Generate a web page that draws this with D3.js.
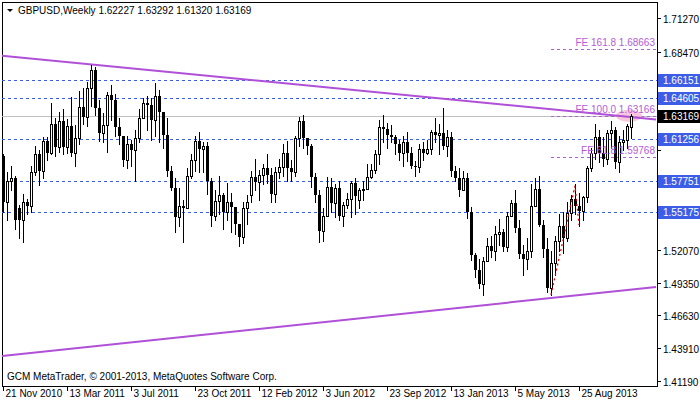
<!DOCTYPE html>
<html><head><meta charset="utf-8">
<script src="https://cdn.jsdelivr.net/npm/d3@7"></script>
<style>body{margin:0;background:#fff}svg{display:block;font-family:"Liberation Sans",Arial,sans-serif}</style>
</head><body><svg id="c" width="700" height="402"></svg>
<script>
const opens=[1.598,1.560,1.578,1.580,1.555,1.545,1.560,1.557,1.585,1.600,1.586,1.611,1.601,1.625,1.606,1.627,1.606,1.623,1.601,1.613,1.639,1.631,1.655,1.670,1.638,1.617,1.624,1.649,1.645,1.622,1.615,1.595,1.608,1.603,1.613,1.630,1.642,1.641,1.628,1.648,1.635,1.616,1.586,1.572,1.548,1.557,1.555,1.582,1.595,1.611,1.604,1.607,1.578,1.549,1.561,1.566,1.552,1.560,1.556,1.542,1.531,1.555,1.566,1.581,1.577,1.583,1.588,1.583,1.567,1.585,1.589,1.601,1.588,1.585,1.613,1.627,1.613,1.607,1.581,1.566,1.536,1.549,1.573,1.559,1.572,1.549,1.558,1.563,1.576,1.562,1.570,1.571,1.581,1.587,1.600,1.622,1.621,1.616,1.614,1.608,1.601,1.610,1.601,1.590,1.589,1.604,1.601,1.604,1.618,1.616,1.617,1.607,1.614,1.586,1.580,1.570,1.580,1.552,1.516,1.504,1.492,1.511,1.524,1.520,1.534,1.535,1.523,1.549,1.559,1.539,1.517,1.513,1.520,1.557,1.571,1.541,1.521,1.489,1.510,1.528,1.540,1.530,1.551,1.563,1.557,1.553,1.564,1.588,1.601,1.614,1.601,1.596,1.617,1.620,1.593,1.610,1.612,1.62227];
const closes=[1.560,1.578,1.580,1.545,1.545,1.560,1.557,1.585,1.600,1.586,1.611,1.601,1.625,1.606,1.627,1.606,1.623,1.601,1.613,1.639,1.631,1.655,1.670,1.638,1.617,1.624,1.649,1.645,1.622,1.615,1.595,1.608,1.603,1.613,1.630,1.642,1.641,1.628,1.648,1.635,1.616,1.586,1.572,1.548,1.557,1.555,1.582,1.595,1.611,1.604,1.607,1.578,1.549,1.561,1.566,1.552,1.560,1.556,1.542,1.531,1.555,1.560,1.581,1.577,1.583,1.588,1.583,1.567,1.585,1.589,1.601,1.588,1.585,1.613,1.627,1.613,1.607,1.581,1.566,1.536,1.549,1.573,1.559,1.572,1.549,1.558,1.563,1.576,1.565,1.570,1.571,1.581,1.587,1.600,1.622,1.621,1.616,1.614,1.608,1.601,1.610,1.601,1.590,1.589,1.604,1.601,1.604,1.618,1.616,1.617,1.607,1.614,1.586,1.580,1.570,1.580,1.552,1.516,1.504,1.492,1.511,1.524,1.520,1.534,1.535,1.523,1.549,1.559,1.539,1.517,1.513,1.520,1.557,1.571,1.541,1.521,1.489,1.510,1.528,1.540,1.530,1.551,1.563,1.557,1.553,1.564,1.588,1.601,1.614,1.601,1.596,1.617,1.620,1.593,1.610,1.612,1.623,1.63169];
const highs=[1.600,1.585,1.590,1.582,1.558,1.567,1.563,1.590,1.607,1.603,1.614,1.614,1.642,1.630,1.635,1.637,1.629,1.647,1.624,1.652,1.655,1.660,1.674,1.672,1.645,1.634,1.651,1.657,1.650,1.630,1.613,1.615,1.612,1.620,1.637,1.646,1.648,1.646,1.659,1.653,1.634,1.630,1.590,1.580,1.572,1.562,1.588,1.600,1.615,1.618,1.610,1.610,1.580,1.570,1.582,1.568,1.576,1.568,1.555,1.542,1.560,1.566,1.586,1.596,1.587,1.592,1.600,1.588,1.589,1.596,1.608,1.611,1.595,1.615,1.631,1.632,1.612,1.608,1.584,1.570,1.555,1.581,1.580,1.575,1.578,1.560,1.568,1.578,1.580,1.572,1.578,1.592,1.592,1.603,1.628,1.632,1.626,1.624,1.616,1.612,1.615,1.618,1.606,1.594,1.608,1.610,1.612,1.620,1.630,1.625,1.638,1.620,1.618,1.590,1.588,1.586,1.584,1.556,1.518,1.513,1.515,1.530,1.532,1.540,1.546,1.538,1.552,1.562,1.570,1.545,1.525,1.530,1.575,1.580,1.582,1.545,1.530,1.520,1.532,1.550,1.552,1.560,1.566,1.575,1.568,1.565,1.590,1.605,1.625,1.620,1.614,1.620,1.627,1.622,1.615,1.620,1.625,1.63292];
const lows=[1.552,1.545,1.570,1.538,1.530,1.527,1.550,1.552,1.583,1.574,1.580,1.595,1.600,1.598,1.602,1.600,1.601,1.598,1.590,1.608,1.625,1.623,1.640,1.632,1.611,1.610,1.602,1.628,1.615,1.608,1.590,1.588,1.590,1.578,1.610,1.630,1.620,1.612,1.615,1.610,1.605,1.582,1.570,1.535,1.540,1.527,1.555,1.580,1.586,1.585,1.585,1.567,1.540,1.545,1.550,1.538,1.545,1.535,1.534,1.524,1.526,1.542,1.560,1.570,1.562,1.575,1.576,1.560,1.560,1.580,1.582,1.578,1.578,1.582,1.607,1.605,1.600,1.573,1.560,1.527,1.528,1.555,1.552,1.548,1.545,1.540,1.555,1.548,1.550,1.555,1.562,1.578,1.580,1.584,1.592,1.610,1.605,1.610,1.600,1.595,1.590,1.594,1.588,1.582,1.585,1.595,1.600,1.600,1.610,1.600,1.604,1.598,1.582,1.578,1.565,1.570,1.547,1.512,1.498,1.489,1.483,1.518,1.515,1.512,1.525,1.520,1.520,1.550,1.535,1.514,1.500,1.505,1.515,1.564,1.540,1.515,1.486,1.483,1.500,1.520,1.518,1.528,1.545,1.550,1.540,1.545,1.560,1.586,1.596,1.593,1.590,1.592,1.605,1.588,1.585,1.603,1.605,1.61320];
const dateLabels=["21 Nov 2010","13 Mar 2011","3 Jul 2011","23 Oct 2011","12 Feb 2012","3 Jun 2012","23 Sep 2012","13 Jan 2013","5 May 2013","25 Aug 2013"];
const dateIdx=[0,16,32,48,64,80,96,112,128,144];
const priceTicks=[1.71270,1.68470,1.65750,1.63030,1.60310,1.57590,1.54870,1.52070,1.49350,1.46630,1.43910,1.41190];
const levels=[1.66151,1.64605,1.61256,1.57751,1.55175];
const bid=1.63169;
const upperLine=[[-0.25,1.6814],[163.25,1.6286]];
const lowerLine=[[-0.25,1.4326],[163.25,1.4898]];
const fibLevels=[{n:"FE 161.8",v:1.68663},{n:"FE 100.0",v:1.63166},{n:"FE 61.8",v:1.59768}];
const fibBase=[[137,1.4832],[143,1.5737],[144,1.5412]];

const svg=d3.select("#c");
const L=2,R=657,T=2,B=386;
const x=d3.scaleLinear().domain([-0.25,163.25]).range([L,R-1]);
const y=d3.scaleLinear().domain([1.41190,1.71270]).range([381,18]);
const px=i=>Math.round(x(i));
const g=svg.append("g").attr("shape-rendering","crispEdges");
svg.append("clipPath").attr("id","pc").append("rect").attr("x",L).attr("y",T).attr("width",R-L).attr("height",B-T);
const p=svg.append("g").attr("clip-path","url(#pc)");
p.append("line").attr("x1",L).attr("x2",R).attr("y1",Math.round(y(bid))+0.5).attr("y2",Math.round(y(bid))+0.5).attr("stroke","#c0c0c0");
levels.forEach(v=>p.append("line").attr("x1",L).attr("x2",R).attr("y1",Math.round(y(v))+0.5).attr("y2",Math.round(y(v))+0.5).attr("stroke","#3c5ee6").attr("stroke-dasharray","3,3"));
const fx1=551;
fibLevels.forEach(f=>{
 const yy=Math.round(y(f.v))+0.5;
 p.append("line").attr("x1",fx1).attr("x2",R).attr("y1",yy).attr("y2",yy).attr("stroke","#b45cd6").attr("stroke-dasharray","3,3");
});
p.append("ellipse").attr("cx",x(156.5)).attr("cy",y(bid)).attr("rx",13).attr("ry",6).attr("fill","#f7b8d4").attr("opacity",0.8);
const ln=d3.line().x(d=>x(d[0])).y(d=>y(d[1]));
[upperLine,lowerLine].forEach(l=>p.append("path").attr("d",ln(l)).attr("stroke","#b050d8").attr("stroke-width",2).attr("fill","none"));
const cg=p.append("g").attr("shape-rendering","crispEdges");
closes.forEach((c,i)=>{
 const o=opens[i],h=highs[i],lo=lows[i],xc=px(i);
 cg.append("line").attr("x1",xc+0.5).attr("x2",xc+0.5).attr("y1",Math.round(y(h))).attr("y2",Math.round(y(lo))+1).attr("stroke","#000");
 const yt=Math.round(y(Math.max(o,c))),yb=Math.round(y(Math.min(o,c)));
 if(c>=o) cg.append("rect").attr("x",xc-1+0.5).attr("y",yt+0.5).attr("width",2).attr("height",Math.max(yb-yt,0)).attr("fill","#fff").attr("stroke","#000");
 else cg.append("rect").attr("x",xc-1).attr("y",yt).attr("width",3).attr("height",Math.max(yb-yt,1)).attr("fill","#000");
});
p.append("path").attr("d",ln(fibBase)).attr("stroke","#e00000").attr("stroke-width",1.3).attr("stroke-dasharray","2,3").attr("fill","none");
fibLevels.forEach(f=>svg.append("text").attr("x",655).attr("y",y(f.v)-3).attr("text-anchor","end").attr("font-size",10).attr("fill","#b45cd6").text(f.n+" "+f.v.toFixed(5)));
g.append("rect").attr("x",L+0.5).attr("y",T+0.5).attr("width",R-L).attr("height",B-T).attr("fill","none").attr("stroke","#000");
const boxed=levels.concat([bid]);
priceTicks.forEach(v=>{const yy=Math.round(y(v))+0.5;
 g.append("line").attr("x1",R).attr("x2",R+4).attr("y1",yy).attr("y2",yy).attr("stroke","#000");
 if(boxed.some(b=>Math.abs(y(b)-y(v))<12)) return;
 svg.append("text").attr("x",663).attr("y",yy+4).attr("font-size",10).attr("fill","#000").text(v.toFixed(5));});
levels.forEach(v=>{const yy=Math.round(y(v));
 g.append("rect").attr("x",R+1).attr("y",yy-6).attr("width",42).attr("height",13).attr("fill","#3c5ee6");
 svg.append("text").attr("x",663).attr("y",yy+4).attr("font-size",10).attr("fill","#fff").text(v.toFixed(5));});
{const yy=Math.round(y(bid));
 g.append("rect").attr("x",R+1).attr("y",yy-6).attr("width",42).attr("height",13).attr("fill","#000");
 svg.append("text").attr("x",663).attr("y",yy+4).attr("font-size",10).attr("fill","#fff").text(bid.toFixed(5));}
dateIdx.forEach((d,k)=>{const xx=px(d)+0.5;
 g.append("line").attr("x1",xx).attr("x2",xx).attr("y1",B).attr("y2",B+5).attr("stroke","#000");
 svg.append("text").attr("x",xx+2).attr("y",397).attr("font-size",10).attr("fill","#000").text(dateLabels[k]);});
svg.append("path").attr("d","M7,9 L13,9 L10,12 Z").attr("fill","#000");
svg.append("text").attr("x",18).attr("y",14).attr("font-size",10).attr("fill","#000").text("GBPUSD,Weekly  1.62227 1.63292 1.61320 1.63169");
svg.append("text").attr("x",7).attr("y",380).attr("font-size",10).attr("fill","#000").text("GCM MetaTrader, © 2001-2013, MetaQuotes Software Corp.");
</script></body></html>
